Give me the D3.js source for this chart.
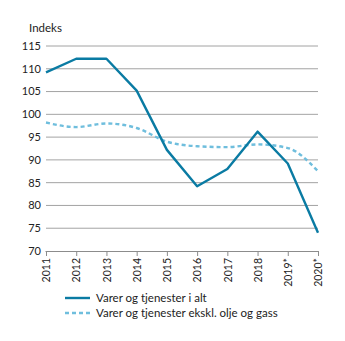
<!DOCTYPE html>
<html>
<head>
<meta charset="utf-8">
<script src="https://cdn.jsdelivr.net/npm/d3@7"></script>
<style>
  body { margin: 0; background: #fff; }
  svg { display: block; font-family: Lato, "Open Sans", sans-serif; }
</style>
</head>
<body>
<div id="chart"></div>
<script>
const years = ["2011", "2012", "2013", "2014", "2015", "2016", "2017", "2018", "2019*", "2020*"];
const totalValues = [109.2, 112.2, 112.2, 105.2, 92.2, 84.2, 88, 96.2, 89.2, 74];
const exOilValues = [98.2, 97.2, 98, 97, 94, 93, 92.8, 93.4, 92.6, 87.5];
const yTicks = [70, 75, 80, 85, 90, 95, 100, 105, 110, 115];
const seriesNames = ["Varer og tjenester i alt", "Varer og tjenester ekskl. olje og gass"];

const width = 345, height = 341;
const margin = { top: 46, right: 27, bottom: 90, left: 46 };
const gridColor = "#8c8c8c";
const textColor = "#222";

const svg = d3.select("#chart").append("svg")
  .attr("width", width).attr("height", height);

const x = d3.scalePoint().domain(years).range([margin.left, width - margin.right]);
const y = d3.scaleLinear().domain([70, 115]).range([height - margin.bottom, margin.top]);

// gridlines
svg.append("g")
  .selectAll("line")
  .data(yTicks.filter(d => d > 70))
  .join("line")
  .attr("x1", margin.left).attr("x2", width - margin.right)
  .attr("y1", d => y(d)).attr("y2", d => y(d))
  .attr("stroke", gridColor).attr("stroke-width", 0.8);

// y labels
svg.append("g")
  .selectAll("text")
  .data(yTicks)
  .join("text")
  .attr("x", margin.left - 5).attr("y", d => y(d))
  .attr("dy", "0.35em").attr("text-anchor", "end")
  .attr("font-size", 11).attr("fill", textColor)
  .text(d => d);

svg.append("text")
  .attr("x", 29).attr("y", 32)
  .attr("font-size", 11.5).attr("fill", textColor)
  .text("Indeks");

// x axis
const xAxis = svg.append("g")
  .attr("transform", `translate(0,${y(70)})`)
  .call(d3.axisBottom(x).tickSize(5).tickSizeOuter(0));
xAxis.select(".domain").attr("stroke", gridColor)
  .attr("d", `M${margin.left - 0.5},0.5H${width - margin.right}`);
xAxis.selectAll(".tick line").attr("stroke", gridColor);
xAxis.selectAll(".tick text")
  .attr("font-size", 10.5).attr("fill", textColor)
  .attr("font-family", "Lato, sans-serif")
  .attr("transform", "rotate(-90)")
  .attr("text-anchor", "end")
  .attr("x", -7).attr("y", 0).attr("dy", "0.35em");

// lines
const lineSharp = d3.line().x((d, i) => x(years[i])).y(d => y(d));
const lineSmooth = d3.line().x((d, i) => x(years[i])).y(d => y(d)).curve(d3.curveMonotoneX);

svg.append("path")
  .datum(exOilValues)
  .attr("d", lineSmooth)
  .attr("fill", "none")
  .attr("stroke", "#6fbedd")
  .attr("stroke-width", 2.4)
  .attr("stroke-dasharray", "4,3");

svg.append("path")
  .datum(totalValues)
  .attr("d", lineSharp)
  .attr("fill", "none")
  .attr("stroke", "#0a7ba3")
  .attr("stroke-width", 2.4)
  .attr("stroke-linejoin", "round");

// legend
const legendItems = [
  { name: seriesNames[0], color: "#0a7ba3", dash: null },
  { name: seriesNames[1], color: "#6fbedd", dash: "4,3" }
];
svg.append("g")
  .selectAll("g")
  .data(legendItems)
  .join("g")
  .attr("transform", (d, i) => `translate(65,${298 + i * 15})`)
  .each(function (d) {
    const g = d3.select(this);
    g.append("line")
      .attr("x1", 0).attr("x2", 25).attr("y1", 0).attr("y2", 0)
      .attr("stroke", d.color).attr("stroke-width", 2.4)
      .attr("stroke-dasharray", d.dash);
    g.append("text")
      .attr("x", 31).attr("y", 0).attr("dy", "0.35em")
      .attr("font-size", 11.5).attr("fill", textColor)
      .text(d.name);
  });
</script>
</body>
</html>
